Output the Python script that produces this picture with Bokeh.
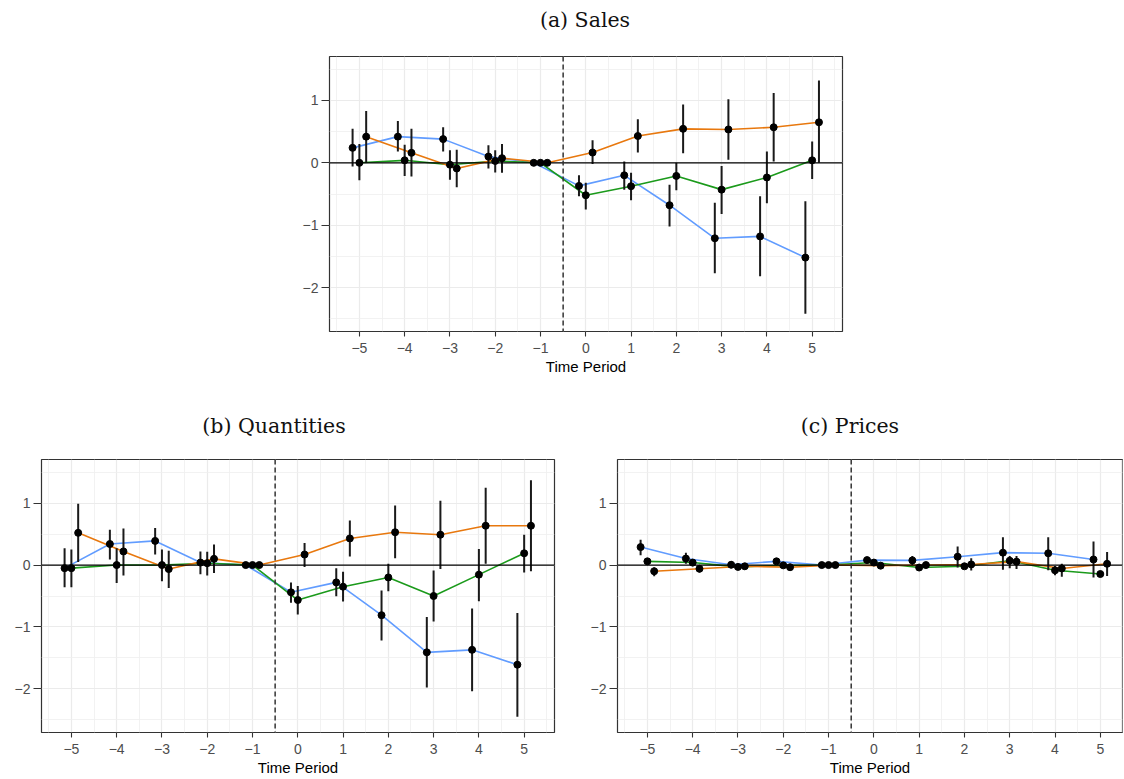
from bokeh.plotting import figure
from bokeh.layouts import column, row
from bokeh.models import Spacer, Range1d, FixedTicker, Span, ColumnDataSource, Div
from bokeh.embed import file_html
from bokeh.resources import INLINE

# ---------------- data ----------------
periods = [-5, -4, -3, -2, -1, 0, 1, 2, 3, 4, 5]
x_ticks = [-5, -4, -3, -2, -1, 0, 1, 2, 3, 4, 5]
x_tick_labels = ["\u22125", "\u22124", "\u22123", "\u22122", "\u22121", "0", "1", "2", "3", "4", "5"]
y_ticks = [-2, -1, 0, 1]
y_tick_labels = ["\u22122", "\u22121", "0", "1"]
panel_titles = ["(a) Sales", "(b) Quantities", "(c) Prices"]
x_axis_title = "Time Period"

series_names = ["blue", "green", "orange"]
series_colors = {"blue": "#619CFF", "green": "#1B9A1B", "orange": "#E8780E"}
series_offsets = {"blue": -0.15, "green": 0.0, "orange": 0.15}

# (a) Sales
sales_blue = [0.24, 0.42, 0.38, 0.10, 0.0, -0.37, -0.20, -0.68, -1.21, -1.18, -1.52]
sales_blue_lo = [-0.06, 0.18, 0.18, -0.09, 0.0, -0.535, -0.43, -1.02, -1.77, -1.82, -2.42]
sales_blue_hi = [0.545, 0.67, 0.57, 0.28, 0.0, -0.20, 0.02, -0.35, -0.64, -0.535, -0.615]
sales_green = [0.0, 0.04, -0.03, 0.03, 0.0, -0.52, -0.375, -0.21, -0.43, -0.235, 0.04]
sales_green_lo = [-0.28, -0.21, -0.27, -0.155, 0.0, -0.75, -0.60, -0.44, -0.82, -0.65, -0.26]
sales_green_hi = [0.30, 0.29, 0.20, 0.20, 0.0, -0.32, -0.16, 0.0, -0.05, 0.18, 0.34]
sales_orange = [0.42, 0.16, -0.09, 0.075, 0.0, 0.165, 0.43, 0.545, 0.535, 0.57, 0.65]
sales_orange_lo = [0.0, -0.22, -0.39, -0.16, 0.0, -0.02, 0.165, 0.155, 0.05, 0.02, 0.0]
sales_orange_hi = [0.83, 0.545, 0.21, 0.30, 0.0, 0.36, 0.70, 0.935, 1.02, 1.12, 1.32]

# (b) Quantities
qty_blue = [-0.05, 0.34, 0.39, 0.04, 0.0, -0.44, -0.28, -0.81, -1.41, -1.37, -1.61]
qty_blue_lo = [-0.36, 0.09, 0.17, -0.15, 0.0, -0.61, -0.505, -1.22, -1.98, -2.04, -2.45]
qty_blue_hi = [0.27, 0.57, 0.60, 0.22, 0.0, -0.28, -0.05, -0.41, -0.84, -0.70, -0.775]
qty_green = [-0.05, 0.0, 0.0, 0.03, 0.0, -0.565, -0.35, -0.20, -0.50, -0.155, 0.19]
qty_green_lo = [-0.36, -0.29, -0.26, -0.17, 0.0, -0.80, -0.59, -0.425, -0.91, -0.585, -0.12]
qty_green_hi = [0.25, 0.27, 0.25, 0.215, 0.0, -0.34, -0.11, 0.02, -0.09, 0.26, 0.49]
qty_orange = [0.52, 0.22, -0.065, 0.10, 0.0, 0.17, 0.43, 0.53, 0.49, 0.635, 0.635]
qty_orange_lo = [0.05, -0.17, -0.37, -0.13, 0.0, -0.03, 0.14, 0.11, -0.065, 0.02, -0.10]
qty_orange_hi = [0.99, 0.59, 0.23, 0.33, 0.0, 0.355, 0.72, 0.96, 1.04, 1.25, 1.37]

# (c) Prices
price_blue = [0.29, 0.105, 0.005, 0.06, 0.0, 0.08, 0.075, 0.135, 0.20, 0.19, 0.09]
price_blue_lo = [0.16, 0.02, -0.05, 0.02, 0.0, 0.04, 0.0, -0.04, -0.075, -0.085, -0.20]
price_blue_hi = [0.41, 0.20, 0.065, 0.10, 0.0, 0.12, 0.145, 0.30, 0.45, 0.45, 0.38]
price_green = [0.06, 0.04, -0.03, -0.005, 0.0, 0.04, -0.04, -0.02, 0.07, -0.085, -0.145]
price_green_lo = [0.01, -0.02, -0.075, -0.05, 0.0, -0.005, -0.09, -0.065, -0.05, -0.165, -0.18]
price_green_hi = [0.11, 0.09, 0.01, 0.04, 0.0, 0.075, 0.0, 0.015, 0.145, -0.015, -0.105]
price_orange = [-0.10, -0.06, -0.02, -0.035, 0.0, -0.01, 0.0, 0.01, 0.055, -0.055, 0.02]
price_orange_lo = [-0.18, -0.12, -0.07, -0.075, 0.0, -0.05, -0.05, -0.09, -0.065, -0.19, -0.175]
price_orange_hi = [-0.04, -0.005, 0.02, 0.0, 0.0, 0.03, 0.04, 0.11, 0.145, 0.02, 0.21]

panels = {
    "sales": {
        "blue": (sales_blue, sales_blue_lo, sales_blue_hi),
        "green": (sales_green, sales_green_lo, sales_green_hi),
        "orange": (sales_orange, sales_orange_lo, sales_orange_hi),
    },
    "qty": {
        "blue": (qty_blue, qty_blue_lo, qty_blue_hi),
        "green": (qty_green, qty_green_lo, qty_green_hi),
        "orange": (qty_orange, qty_orange_lo, qty_orange_hi),
    },
    "price": {
        "blue": (price_blue, price_blue_lo, price_blue_hi),
        "green": (price_green, price_green_lo, price_green_hi),
        "orange": (price_orange, price_orange_lo, price_orange_hi),
    },
}

Y_MIN, Y_MAX = -2.705, 1.705
X_MIN = -5.66


def make_title(text):
    return Div(
        text=text, width=200, height=40, margin=(0, 0, 0, 0),
        styles={
            "font-family": "DejaVu Serif",
            "font-size": "20.5px",
            "line-height": "40px",
            "text-align": "center",
            "color": "#111111",
            "white-space": "nowrap",
        },
    )


def make_panel(data, x_max, frame_width, frame_height,
               left, right, top, bottom):
    p = figure(
        frame_width=frame_width, frame_height=frame_height,
        min_border_left=left, min_border_right=right,
        min_border_top=top, min_border_bottom=bottom,
        x_range=Range1d(X_MIN, x_max), y_range=Range1d(Y_MIN, Y_MAX),
        output_backend="svg", toolbar_location=None,
        background_fill_color="white", border_fill_color="white",
    )

    p.outline_line_color = "#333333"
    p.outline_line_width = 1.2

    # axes
    p.xaxis.ticker = FixedTicker(ticks=x_ticks,
                                 minor_ticks=[t + 0.5 for t in [-6] + x_ticks])
    p.yaxis.ticker = FixedTicker(ticks=y_ticks,
                                 minor_ticks=[t + 0.5 for t in [-3] + y_ticks])
    p.xaxis.major_label_overrides = dict(zip(x_ticks, x_tick_labels))
    p.yaxis.major_label_overrides = dict(zip(y_ticks, y_tick_labels))
    for ax in (p.xaxis, p.yaxis):
        ax.axis_line_color = None
        ax.major_tick_line_color = "#333333"
        ax.major_tick_line_width = 1.1
        ax.major_tick_in = 0
        ax.minor_tick_in = 0
        ax.minor_tick_out = 0
        ax.major_label_text_font = "Liberation Sans"
        ax.major_label_text_font_size = "14px"
        ax.major_label_text_color = "#4D4D4D"
    p.xaxis.major_tick_out = 5
    p.yaxis.major_tick_out = 8
    p.xaxis.major_label_standoff = 6
    p.yaxis.major_label_standoff = 3
    p.xaxis.axis_label = x_axis_title
    p.xaxis.axis_label_text_font = "Liberation Sans"
    p.xaxis.axis_label_text_font_size = "15px"
    p.xaxis.axis_label_text_font_style = "normal"
    p.xaxis.axis_label_text_color = "#000000"
    p.xaxis.axis_label_standoff = 2

    for g in (p.xgrid, p.ygrid):
        g.grid_line_color = "#EBEBEB"
        g.grid_line_width = 1.2
        g.minor_grid_line_color = "#EFEFEF"
        g.minor_grid_line_width = 0.8

    p.add_layout(Span(location=0, dimension="width", line_color="#000000",
                      line_width=1.2))
    p.add_layout(Span(location=-0.5, dimension="height", line_color="#333333",
                      line_width=1.5, line_dash="5 3"))

    sources = {}
    for name in series_names:
        est, lo, hi = data[name]
        xs = [t + series_offsets[name] for t in periods]
        sources[name] = ColumnDataSource(dict(x=xs, y=est, lo=lo, hi=hi))
    for name in series_names:
        p.line("x", "y", source=sources[name], line_color=series_colors[name],
               line_width=1.6)
    for name in series_names:
        p.segment(x0="x", y0="lo", x1="x", y1="hi", source=sources[name],
                  line_color="#1a1a1a", line_width=2)
    for name in series_names:
        p.scatter("x", "y", source=sources[name], size=7, fill_color="#000000",
                  line_color="#000000")
    return p


p1 = make_panel(panels["sales"], 5.67, 513, 275, 40, 20, 16, 75)
p2 = make_panel(panels["qty"], 5.67, 513, 273, 41, 10, 13, 44)
p3 = make_panel(panels["price"], 5.49, 505, 273, 53, 1, 13, 44)

layout = column(
    row(Spacer(width=485, height=40), make_title(panel_titles[0])),
    row(Spacer(width=289, height=10), p1),
    row(Spacer(width=174, height=40), make_title(panel_titles[1]),
        Spacer(width=376, height=40), make_title(panel_titles[2])),
    row(p2, p3),
    spacing=0,
)

with open("out.html", "w") as f:
    f.write(file_html(layout, INLINE))
